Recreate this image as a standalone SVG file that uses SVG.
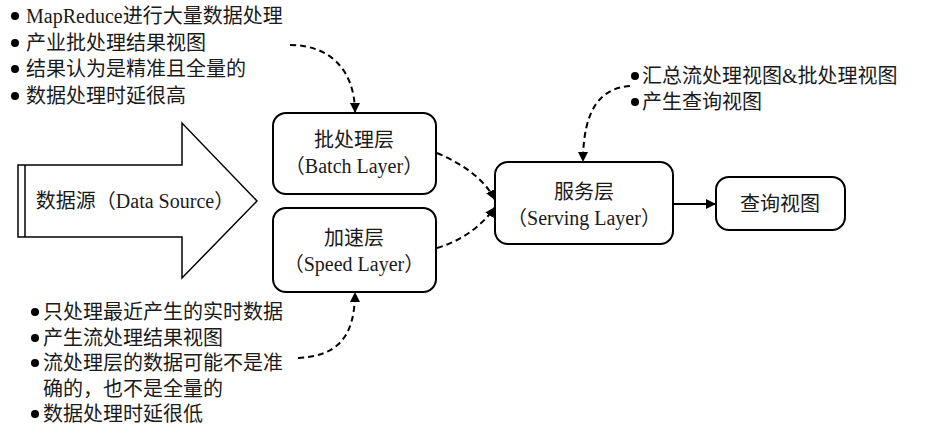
<svg xmlns="http://www.w3.org/2000/svg" width="926" height="445" viewBox="0 0 926 445">
<style>
text{font-family:"Liberation Serif","Noto Sans CJK SC",serif;font-size:20px;fill:#1a1a1a}
.c{text-anchor:middle}
.box{fill:#fff;stroke:#000;stroke-width:2}
.dash{fill:none;stroke:#000;stroke-width:2;stroke-dasharray:6 4}
.solid{fill:none;stroke:#000;stroke-width:2}
</style>
<defs>
<marker id="ah" viewBox="0 0 10 10" refX="10" refY="5" markerWidth="10" markerHeight="10" markerUnits="userSpaceOnUse" orient="auto">
<path d="M0,0 L10,5 L0,10 z" fill="#000"/>
</marker>
</defs>
<g id="source">
<polygon points="18,165 182,165 182,123 257,201 182,278 182,237 18,237" fill="#fff" stroke="#000" stroke-width="1.5"/>
<line x1="25" y1="165" x2="25" y2="237" stroke="#000" stroke-width="1.5"/>
<text x="135" y="208" class="c">数据源（Data Source）</text>
</g>
<g id="batch">
<rect x="273" y="113" width="163" height="81" rx="13" class="box"/>
<text x="354" y="147" class="c">批处理层</text>
<text x="354" y="173" class="c">（Batch Layer）</text>
</g>
<g id="speed">
<rect x="273" y="208" width="163" height="84" rx="13" class="box"/>
<text x="354" y="245" class="c">加速层</text>
<text x="354" y="271" class="c">（Speed Layer）</text>
</g>
<g id="serving">
<rect x="495" y="162" width="178" height="82" rx="13" class="box"/>
<text x="584" y="199" class="c">服务层</text>
<text x="584" y="225" class="c">（Serving Layer）</text>
</g>
<g id="query">
<rect x="716" y="177" width="129" height="53" rx="13" class="box"/>
<text x="780" y="211" class="c">查询视图</text>
</g>
<g id="batch-notes">
<circle cx="15" cy="16" r="4" fill="#000"/>
<circle cx="15" cy="43" r="4" fill="#000"/>
<circle cx="15" cy="69" r="4" fill="#000"/>
<circle cx="15" cy="96" r="4" fill="#000"/>
<text x="26" y="23">MapReduce进行大量数据处理</text>
<text x="26" y="50">产业批处理结果视图</text>
<text x="26" y="76">结果认为是精准且全量的</text>
<text x="26" y="103">数据处理时延很高</text>
</g>
<g id="speed-notes">
<circle cx="35" cy="312" r="4" fill="#000"/>
<circle cx="35" cy="338" r="4" fill="#000"/>
<circle cx="35" cy="363" r="4" fill="#000"/>
<circle cx="35" cy="414" r="4" fill="#000"/>
<text x="43" y="319">只处理最近产生的实时数据</text>
<text x="43" y="345">产生流处理结果视图</text>
<text x="43" y="370">流处理层的数据可能不是准</text>
<text x="43" y="396">确的，也不是全量的</text>
<text x="43" y="421">数据处理时延很低</text>
</g>
<g id="serving-notes">
<circle cx="635" cy="76" r="4" fill="#000"/>
<circle cx="635" cy="102" r="4" fill="#000"/>
<text x="642" y="83">汇总流处理视图&amp;批处理视图</text>
<text x="642" y="109">产生查询视图</text>
</g>
<g id="connectors">
<path d="M290,45 C330,45 355,70 355,113" class="dash" marker-end="url(#ah)"/>
<path d="M437,153 C465,165 485,180 495,200" class="dash" marker-end="url(#ah)"/>
<path d="M437,248 C465,240 485,222 495,207" class="dash" marker-end="url(#ah)"/>
<path d="M630,86 C600,88 583,110 583,162" class="dash" marker-end="url(#ah)"/>
<path d="M298,358 C335,356 355,340 355,292" class="dash" marker-end="url(#ah)"/>
<line x1="673" y1="204" x2="716" y2="204" class="solid" marker-end="url(#ah)"/>
</g>
</svg>
